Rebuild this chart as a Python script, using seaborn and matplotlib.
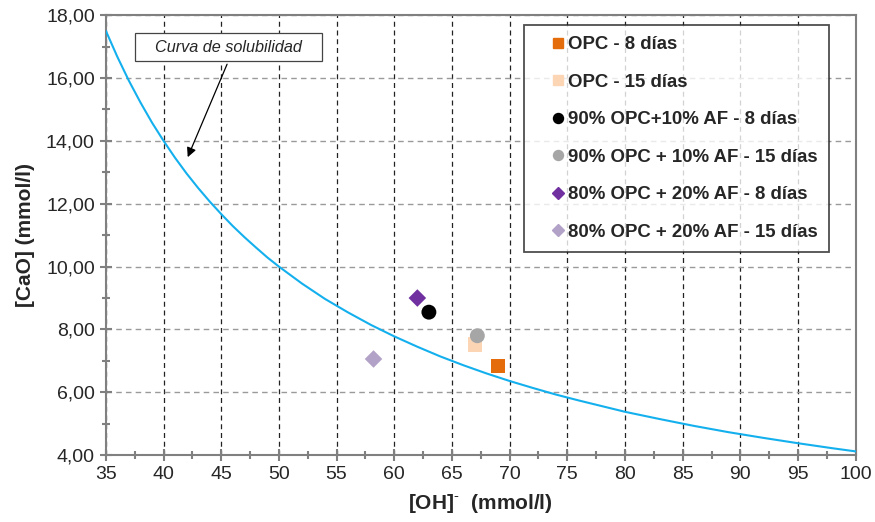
import matplotlib
matplotlib.use("Agg")
import matplotlib.pyplot as plt
import seaborn as sns
import pandas as pd
from matplotlib.patches import Rectangle
from matplotlib.ticker import MultipleLocator, FuncFormatter

# Solubility curve values
curve_oh = [35, 36, 37, 38, 39, 40, 41, 42, 43, 44, 45, 46, 47, 48, 49, 50, 52, 54, 56, 58, 60,
            62, 64, 66, 68, 70, 72, 74, 76, 78, 80, 83, 86, 89, 92, 95, 98, 100]
curve_cao = [17.50, 16.67, 15.91, 15.22, 14.58, 14.00, 13.46, 12.96, 12.50, 12.07, 11.67, 11.29,
             10.94, 10.61, 10.29, 10.00, 9.46, 8.97, 8.54, 8.14, 7.78, 7.45, 7.14, 6.86, 6.60,
             6.36, 6.14, 5.93, 5.74, 5.56, 5.38, 5.15, 4.93, 4.73, 4.55, 4.38, 4.22, 4.12]

# Measured points
series_labels = ["OPC - 8 días", "OPC - 15 días", "90% OPC+10% AF - 8 días",
                 "90% OPC + 10% AF - 15 días", "80% OPC + 20% AF - 8 días",
                 "80% OPC + 20% AF - 15 días"]
series_oh = [69.0, 67.0, 63.0, 67.2, 62.0, 58.2]
series_cao = [6.84, 7.53, 8.55, 7.80, 9.00, 7.06]
series_colors = ["#E46C0A", "#FCD5B5", "#000000", "#A6A6A6", "#7030A0", "#B3A2C7"]
series_markers = ["s", "s", "o", "o", "D", "D"]
series_sizes = [110, 110, 115, 115, 80, 80]

sns.set_theme(style="white")
plt.rcParams['font.family'] = ['Liberation Sans', 'DejaVu Sans']
plt.rcParams['mathtext.fontset'] = 'custom'
plt.rcParams['mathtext.rm'] = 'Liberation Sans'

fig = plt.figure(figsize=(8.75, 5.22), dpi=100)
ax = fig.add_axes([0.121, 0.128, 0.857, 0.843])

curve_df = pd.DataFrame({"oh": curve_oh, "cao": curve_cao})
sns.lineplot(data=curve_df, x="oh", y="cao", ax=ax, color="#14B0EE", lw=1.5, zorder=3)

handles = []
for lab, x, y, c, m, s in zip(series_labels, series_oh, series_cao, series_colors,
                              series_markers, series_sizes):
    sns.scatterplot(x=[x], y=[y], ax=ax, color=c, marker=m, s=s, edgecolor="none",
                    zorder=4)
    handles.append(plt.Line2D([], [], ls="none", marker=m, color=c,
                              markersize=7.2 if m != "D" else 6.0, label=lab))

ax.set_xlim(35, 100)
ax.set_ylim(4, 18)
ax.xaxis.set_major_locator(MultipleLocator(5))
ax.xaxis.set_minor_locator(MultipleLocator(2.5))
ax.yaxis.set_major_locator(MultipleLocator(2))
ax.yaxis.set_minor_locator(MultipleLocator(1))
ax.yaxis.set_major_formatter(FuncFormatter(lambda v, p: f"{v:.2f}".replace(".", ",")))

ax.grid(True, which="major", axis="x", ls=(0, (4, 3)), color="#222222", lw=0.9)
ax.grid(True, which="major", axis="y", ls=(0, (4, 3)), color="#9A9A9A", lw=1.0)
ax.set_axisbelow(True)

for sp in ax.spines.values():
    sp.set_color("#808080")
    sp.set_linewidth(1.5)
ax.tick_params(axis="both", which="both", direction="inout", color="#808080")
ax.tick_params(which="major", length=8, width=1.5, labelsize=14)
ax.tick_params(which="minor", length=6, width=1.5)
ax.tick_params(axis="x", which="major", pad=4)
ax.tick_params(axis="y", which="major", pad=4)
ax.tick_params(axis="both", which="both", bottom=True, left=True)

ax.set_xlabel("[OH]$^{\\mathrm{\\text{-}}}$  (mmol/l)", fontsize=15, fontweight="bold",
              labelpad=6)
ax.set_ylabel("[CaO] (mmol/l)", fontsize=15, fontweight="bold", labelpad=8)

ax.annotate("", xy=(42.0, 13.4), xytext=(45.6, 16.52),
            arrowprops=dict(arrowstyle="-|>", color="black", lw=0.9, mutation_scale=14),
            zorder=5)
ax.add_patch(Rectangle((37.5, 16.53), 16.2, 0.9, fc="white", ec="#444444", lw=0.9,
                       zorder=6))
ax.text(45.6, 16.98, "Curva de solubilidad", fontsize=11.7, style="italic",
        ha="center", va="center", zorder=7)

leg = ax.legend(handles=handles, loc="upper right", bbox_to_anchor=(0.964, 0.977),
                frameon=True, fancybox=False, edgecolor="#222222", fontsize=13.4,
                labelspacing=1.1, handlelength=2.5, handletextpad=-0.72,
                borderpad=0.6, borderaxespad=0)
leg.get_frame().set_linewidth(1.3)
for t in leg.get_texts():
    t.set_fontweight("bold")

fig.savefig("out.png", dpi=100)
